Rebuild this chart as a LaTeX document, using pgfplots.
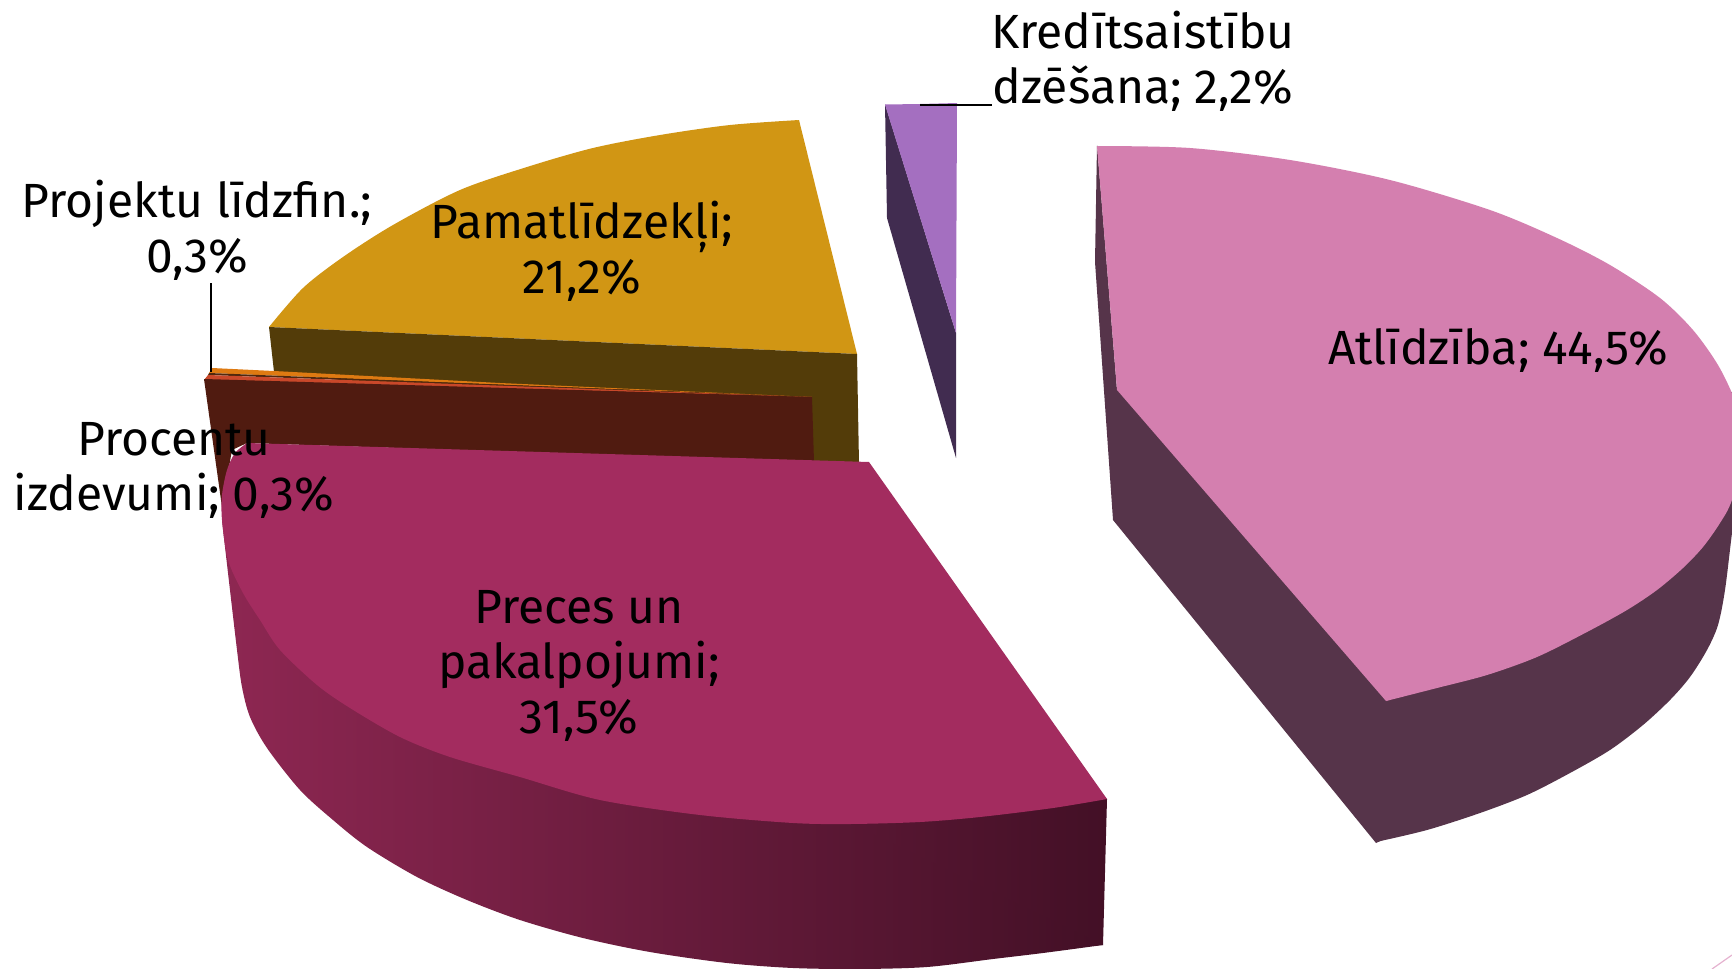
\documentclass[border=0pt]{standalone}
\usepackage{pgfplots}
\pgfplotsset{compat=1.18}
\usepackage{fontspec}
\setmainfont{Fira Sans}
\definecolor{gold}{HTML}{D19614}
\definecolor{goldw}{HTML}{533C09}
\definecolor{orng}{HTML}{DE7A12}
\definecolor{redd}{HTML}{C9482A}
\definecolor{maroon}{HTML}{501B10}
\definecolor{mag}{HTML}{A32C5F}
\definecolor{magl}{HTML}{8E2752}
\definecolor{magr}{HTML}{431026}
\definecolor{pnk}{HTML}{D47FAF}
\definecolor{pnkw}{HTML}{56344A}
\definecolor{pur}{HTML}{A46FC0}
\definecolor{purw}{HTML}{412C50}
\tikzset{lbl/.style={align=center, font=\fontsize{48}{55}\selectfont, text=black, inner sep=0pt}}
\begin{document}
\begin{tikzpicture}
\begin{axis}[
  scale only axis, width=1732pt, height=969pt,
  xmin=0, xmax=1732, ymin=0, ymax=969, y dir=reverse,
  hide axis,
  every axis plot/.append style={no markers, draw=none},
]
\coordinate (SW) at (axis cs:0,969);
\coordinate (NE) at (axis cs:1732,0);
% Kreditsaistibu dzesana: wall and top
\addplot[fill=purw] coordinates {(885,104)(887,218)(956,458)(956,333)} -- cycle;
\addplot[fill=pur] coordinates {(885,104.5)(920,104)(957,103)(956,333)} -- cycle;
% Atlidziba: wall (inner polygon + outer arc) and top (inner polygon + outer arc)
\addplot[fill=pnkw] coordinates {(1097,145)(1095,262)(1113,520)(1376,843)(1600,740)(1745,430)(1732,392)(1117,390)} -- cycle;
\addplot[fill=pnkw, smooth] coordinates {(1376,842)(1427,830)(1480,813)(1527,795)(1570,773)(1610,750)(1643,725)(1670,700)(1690,677)(1707,650)(1718,625)(1725,590)(1732,533)(1745,430)} -- cycle;
\addplot[fill=pnk] coordinates {(1097,146)(1500,225)(1750,440)(1620,600)(1386,701)(1117,390)} -- cycle;
\addplot[fill=pnk, smooth] coordinates {(1097,146)(1190,148)(1290,160)(1390,180)(1490,210)(1557,238)(1610,265)(1660,298)(1693,330)(1718,365)(1735,400)(1750,440)} -- cycle;
\addplot[fill=pnk, smooth] coordinates {(1750,440)(1732,500)(1720,523)(1703,547)(1683,568)(1657,590)(1627,610)(1587,632)(1537,657)(1487,675)(1437,688)(1386,701)} -- cycle;
% Pamatlidzekli: top and wall
\addplot[fill=gold] coordinates {(799,120)(495,190)(269,327)(857,354)} -- cycle;
\addplot[fill=gold, smooth] coordinates {(799,120)(730,125)(660,135)(593,148)(527,167)(460,190)(393,225)(343,257)(303,288)(269,327)} -- cycle;
\addplot[fill=goldw] coordinates {(269,327)(274,372)(500,400)(800,470)(859,464)(857,354)} -- cycle;
% Projektu lidzfin.
\addplot[fill=orng] coordinates {(212,368)(274,371)(500,383)(812,397)(209,373)} -- cycle;
\addplot[fill=maroon!60!goldw] coordinates {(209,373)(812,397)(208,375)} -- cycle;
% Procentu izdevumi
\addplot[fill=redd] coordinates {(208,375)(812,397)(204,380)} -- cycle;
\addplot[fill=maroon] coordinates {(204,379)(812,397)(814,462)(247,443)(232,450)(222,507)} -- cycle;
% Preces un pakalpojumi: wall and top
\addplot[shade, left color=magl, right color=magr] coordinates {(222,520)(850,960)(1103,945)(1107,799)} -- cycle;
\addplot[shade, left color=magl, right color=magr, smooth] coordinates {(222,520)(225,547)(237,650)(242,687)(250,717)(267,748)(300,790)(333,820)(367,847)(417,877)(467,900)(520,920)(583,938)(650,952)(727,963)(793,968)(860,969)(927,967)(993,959)(1043,953)(1103,945)} -- cycle;
\addplot[fill=mag] coordinates {(247,443)(869,462)(1107,799)(600,790)} -- cycle;
\addplot[fill=mag, smooth] coordinates {(247,443)(235,453)(227,470)(222,495)(222,520)(228,560)(243,593)(260,620)(280,650)(317,685)(350,708)(400,737)(450,757)(520,777)(600,800)(700,815)(793,823)(850,824)(920,822)(980,817)(1053,808)(1107,799)} -- cycle;
% leader lines
\addplot[draw=black, line width=2pt] coordinates {(210.5,283)(210.5,372)};
\addplot[draw=black, line width=2pt] coordinates {(920,105)(992,105)};
% corner stroke
\addplot[draw=pnk!60!white, line width=1.2pt] coordinates {(1712,969)(1732,955)};
\node[lbl] at (axis cs:1143,61) {Kredītsaistību\\dzēšana; 2,2\%};
\node[lbl] at (axis cs:197,230) {Projektu līdzfin.;\\0,3\%};
\node[lbl] at (axis cs:582,251) {Pamatlīdzekļi;\\21,2\%};
\node[lbl] at (axis cs:174,470) {Procentu\\izdevumi; 0,3\%};
\node[lbl] at (axis cs:579,666) {Preces un\\pakalpojumi;\\31,5\%};
\node[lbl] at (axis cs:1498,350) {Atlīdzība; 44,5\%};
\end{axis}
\pgfresetboundingbox
\path[use as bounding box] (SW) rectangle (NE);
\end{tikzpicture}
\end{document}
